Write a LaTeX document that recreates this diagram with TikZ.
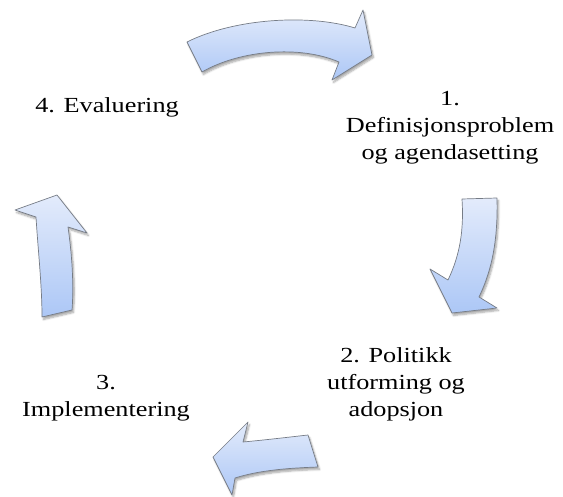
\documentclass[tikz,border=0pt]{standalone}
\usepackage{fontspec}
\setmainfont{Liberation Serif}[FakeStretch=1.22]
\usetikzlibrary{shadows.blur}
\definecolor{arrowtop}{RGB}{227,235,251}
\definecolor{arrowbottom}{RGB}{172,199,246}
\definecolor{arrowedge}{RGB}{118,124,134}
\tikzset{
  cyclearrow/.style={draw=arrowedge, line width=0.7pt, line join=round,
    top color=arrowtop, bottom color=arrowbottom,
    blur shadow={shadow xshift=1.5pt, shadow yshift=-2.5pt,
      shadow blur steps=6, shadow opacity=35}},
  stage/.style={align=center, font=\fontsize{21.5}{27}\selectfont, inner sep=0pt, text=black}
}
\begin{document}
\begin{tikzpicture}[x=1pt, y=-1pt]
\useasboundingbox (0,0) rectangle (563,497);

% curved arrows of the cycle
\path[cyclearrow] (187,42) .. controls (235,18) and (310,14) .. (355,28)
  -- (363,10) -- (372,55) -- (332,80) -- (339,62)
  .. controls (300,45) and (240,50) .. (202,72) -- cycle;
\path[cyclearrow] (462,199) -- (497,198) .. controls (498,240) and (492,270) .. (479,297)
  -- (497,308) -- (452,313) -- (430,269) -- (448,280)
  .. controls (460,255) and (464,230) .. (462,199) -- cycle;
\path[cyclearrow] (213,457) -- (248,422) -- (243,442)
  .. controls (265,440) and (290,437) .. (308,435) -- (318,467)
  .. controls (290,468) and (260,470) .. (235,478) -- (232,495) -- cycle;
\path[cyclearrow] (15,210) -- (57,195) -- (87,233) -- (68,227)
  .. controls (72,255) and (74,285) .. (72,310) -- (42,317)
  .. controls (42,285) and (38,250) .. (36,217) -- cycle;

% stage labels
\node[stage] (s1) at (450,128) {1.\\Definisjonsproblem\\og agendasetting};
\node[stage] (s2) at (396,384) {2. Politikk\\utforming og\\adopsjon};
\node[stage] (s3) at (106,398) {3.\\Implementering};
\node[stage] (s4) at (107,107) {4. Evaluering};
\end{tikzpicture}
\end{document}
